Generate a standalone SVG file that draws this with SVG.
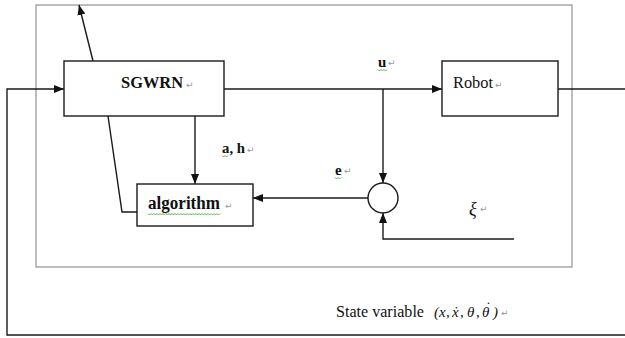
<svg xmlns="http://www.w3.org/2000/svg" width="625" height="338" viewBox="0 0 625 338">
<style>
.ln{fill:none;stroke:#1a1a1a;stroke-width:1.4}
.box{fill:#fff;stroke:#1a1a1a;stroke-width:1.4}
.frame{fill:none;stroke:#9a9a9a;stroke-width:1.3}
.t{font-family:"Liberation Serif","Times New Roman",serif;fill:#111}
.b{font-weight:bold}
.pm{font-family:"DejaVu Sans",sans-serif;font-size:9px;fill:#999}
.sq{fill:none;stroke:#3a9a3a;stroke-width:0.8}
</style>
<defs>
<marker id="ah" markerUnits="userSpaceOnUse" markerWidth="10" markerHeight="8" refX="10" refY="4" orient="auto">
<path d="M0,0 L10,4 L0,8 z" fill="#111"/>
</marker>
</defs>
<rect class="frame" x="36" y="5" width="536" height="262"/>
<g id="connectors">
<path class="ln" d="M625,335 H7 V89 H64" marker-end="url(#ah)"/>
<path class="ln" d="M558,89 H625"/>
<path class="ln" d="M224,89 H442" marker-end="url(#ah)"/>
<path class="ln" d="M383,89 V183" marker-end="url(#ah)"/>
<path class="ln" d="M368,198 H253" marker-end="url(#ah)"/>
<path class="ln" d="M514,239 H383 V213" marker-end="url(#ah)"/>
<path class="ln" d="M195,116 V184" marker-end="url(#ah)"/>
<path class="ln" d="M137,212 H122 L108,116"/>
<path class="ln" d="M93,61 L79,5" marker-end="url(#ah)"/>
</g>
<g id="sgwrn">
<rect class="box" x="64" y="61" width="160" height="55"/>
<text class="t b" x="121" y="88" font-size="17.5" textLength="62" lengthAdjust="spacingAndGlyphs">SGWRN</text>
<text class="pm" x="186" y="88">↵</text>
</g>
<g id="robot">
<rect class="box" x="442" y="61" width="116" height="55"/>
<text class="t" x="453" y="88" font-size="17.5" textLength="40" lengthAdjust="spacingAndGlyphs">Robot</text>
<text class="pm" x="495" y="88">↵</text>
</g>
<g id="algorithm">
<rect class="box" x="137" y="184" width="116" height="42"/>
<text class="t b" x="148" y="209" font-size="18" textLength="72" lengthAdjust="spacingAndGlyphs">algorithm</text>
<text class="pm" x="225" y="209">↵</text>
<path class="sq" d="M148,213.5 l1.5,1.5 l1.5,-1.5 l1.5,1.5 l1.5,-1.5 l1.5,1.5 l1.5,-1.5 l1.5,1.5 l1.5,-1.5 l1.5,1.5 l1.5,-1.5 l1.5,1.5 l1.5,-1.5 l1.5,1.5 l1.5,-1.5 l1.5,1.5 l1.5,-1.5 l1.5,1.5 l1.5,-1.5 l1.5,1.5 l1.5,-1.5 l1.5,1.5 l1.5,-1.5 l1.5,1.5 l1.5,-1.5 l1.5,1.5 l1.5,-1.5 l1.5,1.5 l1.5,-1.5 l1.5,1.5 l1.5,-1.5 l1.5,1.5 l1.5,-1.5 l1.5,1.5 l1.5,-1.5 l1.5,1.5 l1.5,-1.5 l1.5,1.5 l1.5,-1.5 l1.5,1.5 l1.5,-1.5 l1.5,1.5 l1.5,-1.5 l1.5,1.5 l1.5,-1.5 l1.5,1.5 l1.5,-1.5 l1.5,1.5 l1.5,-1.5"/>
</g>
<g id="sum">
<circle cx="383" cy="198" r="15" fill="#fff" stroke="#1a1a1a" stroke-width="1.4"/>
</g>
<g id="labels">
<text class="t b" x="378" y="67" font-size="15">u</text>
<text class="pm" x="388" y="66">↵</text>
<path class="sq" d="M378,69.5 l1.5,1.5 l1.5,-1.5 l1.5,1.5 l1.5,-1.5 l1.5,1.5 l1.5,-1.5"/>
<text class="t b" x="222" y="153" font-size="15.5" textLength="23" lengthAdjust="spacingAndGlyphs">a, h</text>
<text class="pm" x="247" y="153">↵</text>
<path class="sq" d="M222,155.5 l1.5,1.5 l1.5,-1.5 l1.5,1.5 l1.5,-1.5"/>
<text class="t b" x="335" y="175" font-size="15">e</text>
<text class="pm" x="344" y="174">↵</text>
<path class="sq" d="M335,177.5 l1.5,1.5 l1.5,-1.5 l1.5,1.5 l1.5,-1.5"/>
<text class="t" x="469" y="215" font-size="18" font-style="italic">ξ</text>
<text class="pm" x="480" y="212">↵</text>
<text class="t" x="336" y="317" font-size="17.5" textLength="88" lengthAdjust="spacingAndGlyphs">State variable</text>
<text class="t" y="317" font-size="15" font-style="italic"><tspan x="434">(</tspan><tspan x="439">x</tspan><tspan x="446">,</tspan><tspan x="452">ẋ</tspan><tspan x="460">,</tspan><tspan x="467">θ</tspan><tspan x="476">,</tspan><tspan x="482">θ</tspan><tspan x="485" y="312">˙</tspan><tspan x="493" y="317">)</tspan></text>
<text class="pm" x="501" y="316">↵</text>
</g>
</svg>
